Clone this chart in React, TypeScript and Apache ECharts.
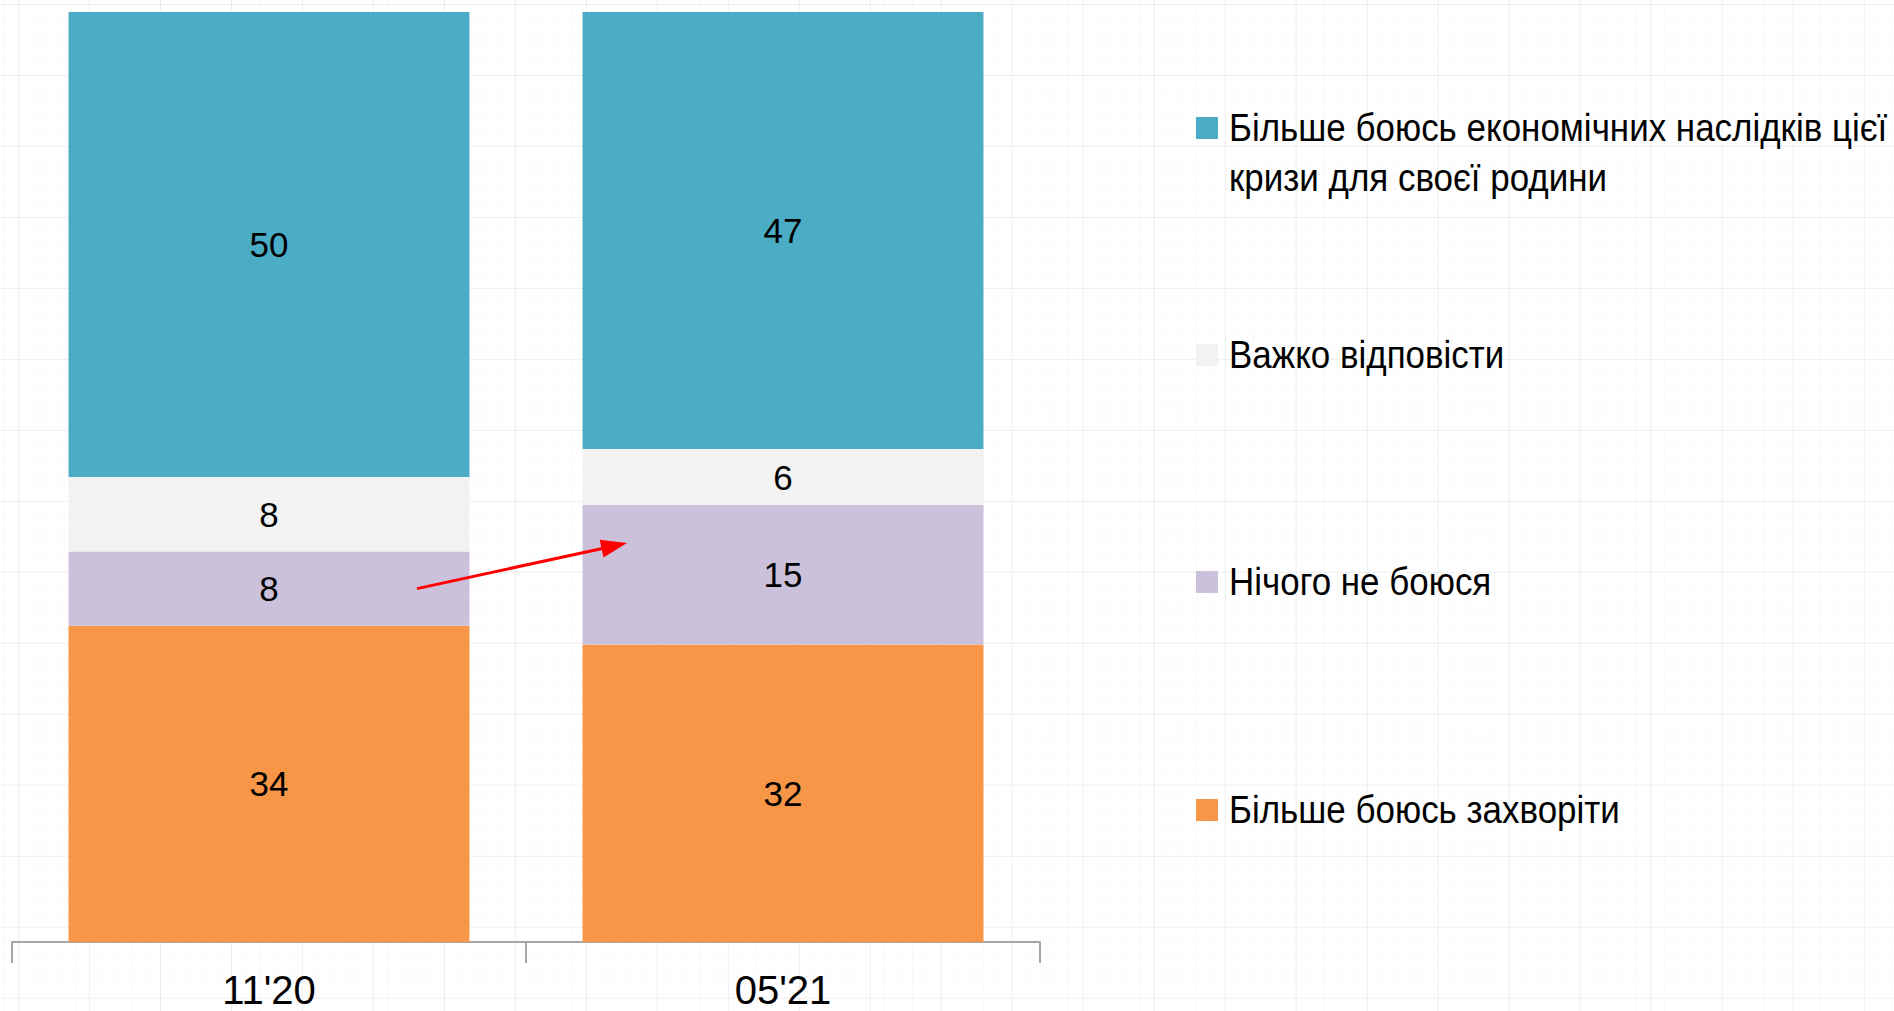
import React, { useEffect, useRef } from "react";
import * as echarts from "echarts";

const categories = ["11'20", "05'21"];
const nameSick = "Більше боюсь захворіти";
const nameNothing = "Нічого не боюся";
const nameHard = "Важко відповісти";
const nameEconomic = "Більше боюсь економічних наслідків цієї кризи для своєї родини";
const legendEconomicLines = ["Більше боюсь економічних наслідків цієї", "кризи для своєї родини"];

const sickValues = [34, 32];
const nothingValues = [8, 15];
const hardValues = [8, 6];
const economicValues = [50, 47];

const COLORS = {
  sick: "#F79646",
  nothing: "#CCC1DA",
  hard: "#F2F2F2",
  economic: "#4BACC6",
};

const FONT = "'Liberation Sans Narrow', 'Arial Narrow', 'Liberation Sans', Arial, sans-serif";

export default function App() {
  const ref = useRef<HTMLDivElement>(null);

  useEffect(() => {
    document.body.style.margin = "0";
    if (!ref.current) return;
    const chart = echarts.init(ref.current, undefined, { renderer: "svg" });

    const label = {
      show: true,
      position: "inside",
      color: "#000",
      fontFamily: FONT,
      fontSize: 35,
    };

    const mk = (name: string, data: number[], color: string) => ({
      name,
      type: "bar",
      stack: "total",
      data,
      barCategoryGap: "22%",
      itemStyle: { color },
      label,
      emphasis: { disabled: true },
    });

    chart.setOption({
      animation: false,
      grid: { left: 12, right: 854, top: 12, bottom: 69, containLabel: false },
      xAxis: {
        type: "category",
        data: categories,
        axisLine: { lineStyle: { color: "#A6A6A6", width: 2 } },
        axisTick: { show: true, length: 21, lineStyle: { color: "#A6A6A6", width: 2 } },
        axisLabel: { color: "#000", fontFamily: FONT, fontSize: 40, margin: 28 },
      },
      yAxis: { type: "value", min: 0, max: 100, show: false, splitLine: { show: false } },
      series: [
        mk(nameSick, sickValues, COLORS.sick),
        mk(nameNothing, nothingValues, COLORS.nothing),
        mk(nameHard, hardValues, COLORS.hard),
        mk(nameEconomic, economicValues, COLORS.economic),
      ],
    });

    // Legend (drawn as graphic for exact layout)
    const legendItems = [
      { lines: legendEconomicLines, color: COLORS.economic, cy: 128 },
      { lines: [nameHard], color: COLORS.hard, cy: 355 },
      { lines: [nameNothing], color: COLORS.nothing, cy: 582 },
      { lines: [nameSick], color: COLORS.sick, cy: 810 },
    ];
    const legendGraphics: any[] = [];
    legendItems.forEach((it) => {
      legendGraphics.push({
        type: "rect",
        z: 100,
        shape: { x: 1196, y: it.cy - 11, width: 22, height: 22 },
        style: { fill: it.color },
        silent: true,
      });
      legendGraphics.push({
        type: "text",
        z: 100,
        x: 1229,
        y: it.cy - 25,
        scaleX: 0.92,
        style: {
          text: it.lines.join("\n"),
          fontFamily: FONT,
          fontSize: 38,
          lineHeight: 50,
          fill: "#000",
          verticalAlign: "top",
          align: "left",
        },
        silent: true,
      });
    });

    // Arrow annotation from bar 1 (lavender) to bar 2 (lavender)
    const p0 = chart.convertToPixel({ xAxisIndex: 0, yAxisIndex: 0 }, [0, sickValues[0] + 4]) as number[];
    const p1 = chart.convertToPixel({ xAxisIndex: 0, yAxisIndex: 0 }, [1, sickValues[1] + 11]) as number[];
    const x0 = p0[0] + 148;
    const y0 = p0[1];
    const x1 = p1[0] - 156;
    const y1 = p1[1] + 1;
    const dx = x1 - x0;
    const dy = y1 - y0;
    const len = Math.sqrt(dx * dx + dy * dy);
    const ux = dx / len;
    const uy = dy / len;
    const headLen = 26;
    const headHalf = 9;
    const bx = x1 - ux * headLen;
    const by = y1 - uy * headLen;
    const arrow = [
      {
        type: "line",
        z: 100,
        shape: { x1: x0, y1: y0, x2: bx + ux * 2, y2: by + uy * 2 },
        style: { stroke: "#FF0000", lineWidth: 3 },
        silent: true,
      },
      {
        type: "polygon",
        z: 100,
        shape: {
          points: [
            [x1, y1],
            [bx - uy * headHalf, by + ux * headHalf],
            [bx + uy * headHalf, by - ux * headHalf],
          ],
        },
        style: { fill: "#FF0000" },
        silent: true,
      },
    ];

    chart.setOption({ graphic: [...legendGraphics, ...arrow] });

    return () => chart.dispose();
  }, []);

  return (
    <div
      ref={ref}
      style={{
        position: "absolute",
        left: 0,
        top: 0,
        width: 1894,
        height: 1011,
        backgroundColor: "#fff",
        backgroundImage:
          "linear-gradient(to right, rgba(0,0,0,0.045) 1px, transparent 1px), linear-gradient(to bottom, rgba(0,0,0,0.045) 1px, transparent 1px), linear-gradient(to right, rgba(0,0,0,0.018) 1px, transparent 1px), linear-gradient(to bottom, rgba(0,0,0,0.018) 1px, transparent 1px)",
        backgroundSize: "71px 71px, 71px 71px, 14.2px 14.2px, 14.2px 14.2px",
        backgroundPosition: "18px 4px, 18px 4px, 4px 4px, 4px 4px",
      }}
    />
  );
}
